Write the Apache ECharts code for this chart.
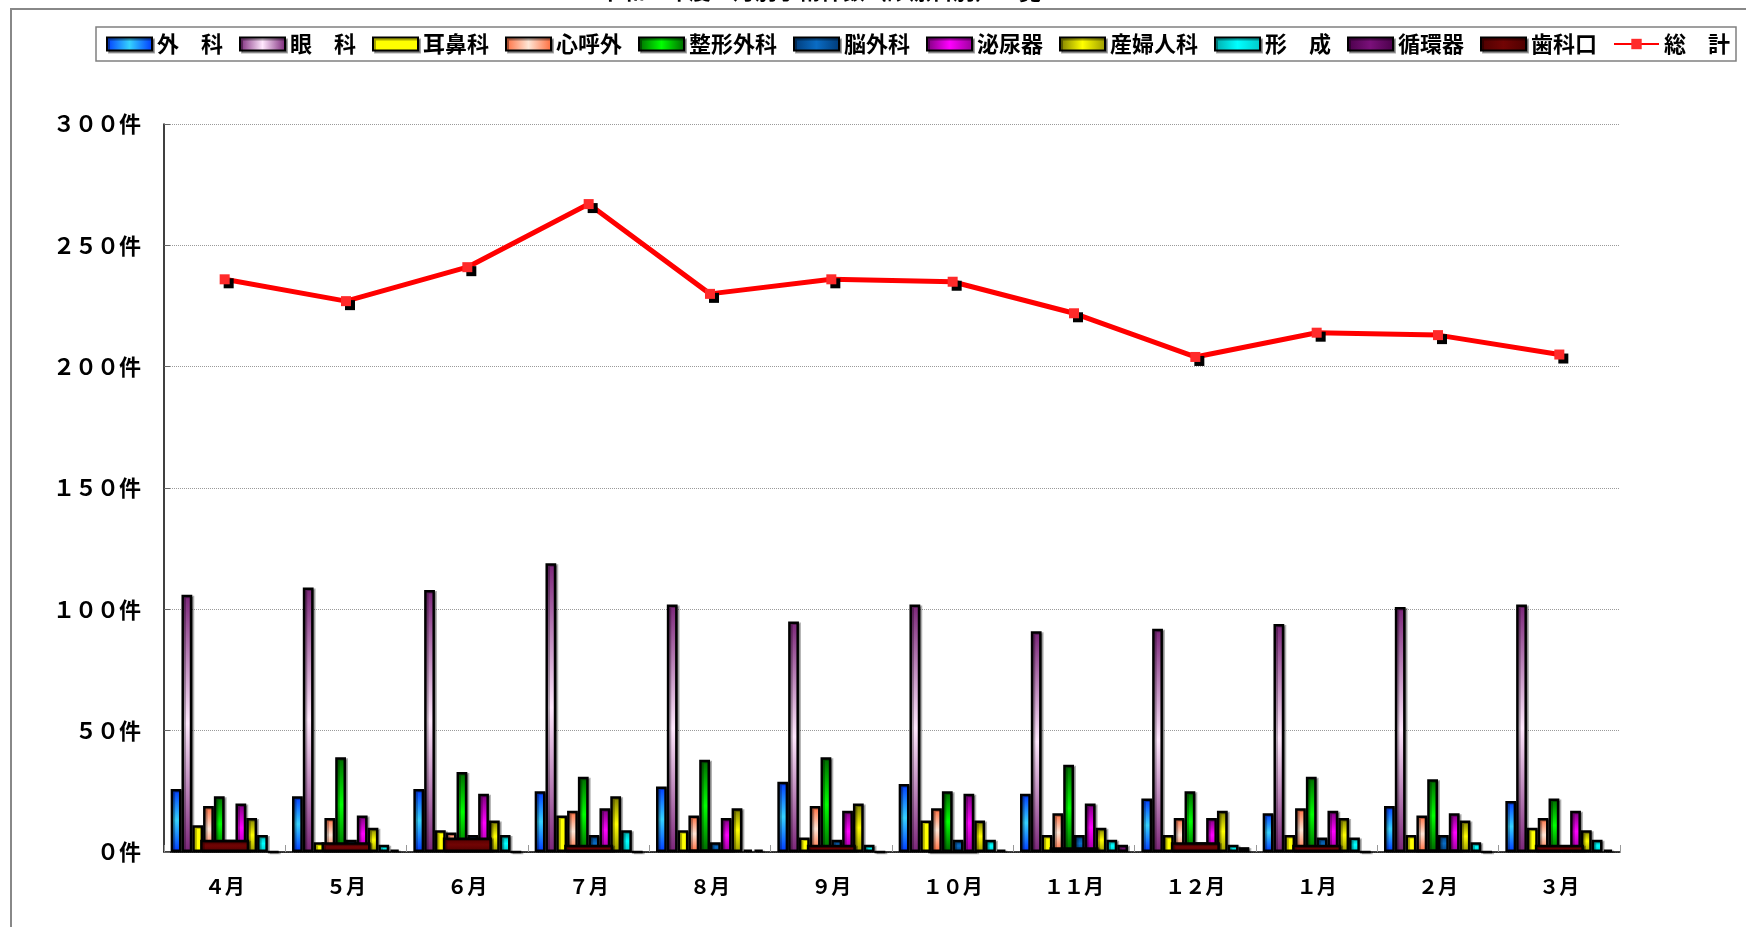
<!DOCTYPE html>
<html>
<head>
<meta charset="utf-8">
<script src="https://cdn.jsdelivr.net/npm/echarts@6/dist/echarts.min.js"></script>
<style>
html,body{margin:0;padding:0;background:#fff;}
#chart{width:1746px;height:927px;}
</style>
</head>
<body>
<div id="chart"></div>
<script>
// ---- data ----
const months = ['４月','５月','６月','７月','８月','９月','１０月','１１月','１２月','１月','２月','３月'];
const yTickLabels = ['０件','５０件','１００件','１５０件','２００件','２５０件','３００件'];
const seriesNames = ['外　科','眼　科','耳鼻科','心呼外','整形外科','脳外科','泌尿器','産婦人科','形　成','循環器','歯科口','総　計'];
const geka       = [26,23,26,25,27,29,28,24,22,16,19,21];
const ganka      = [106,109,108,119,102,95,102,91,92,94,101,102];
const jibika     = [11,4,9,15,9,6,13,7,7,7,7,10];
const shinkogai  = [19,14,8,17,15,19,18,16,14,18,15,14];
const seikei     = [23,39,33,31,38,39,25,36,25,31,30,22];
const nogeka     = [5,5,7,7,4,5,5,7,4,6,7,1];
const hinyoki    = [20,15,24,18,14,17,24,20,14,17,16,17];
const sanfujinka = [14,10,13,23,18,20,13,10,17,14,13,9];
const keisei     = [7,3,7,9,1,3,5,5,3,6,4,5];
const junkanki   = [0,1,0,0,1,0,1,3,2,0,0,1];
const shika      = [5,4,6,3,1,3,0,2,4,3,1,3];
const total      = [236,227,241,267,230,236,235,222,204,214,213,205];

// ---- styles ----
const barData = [geka, ganka, jibika, shinkogai, seikei, nogeka, hinyoki, sanfujinka, keisei, junkanki];
const barColors = [
  ['#0038ff','#35d2ff','#0038ff'],
  ['#7a2478','#ffe8fd','#7a2478'],
  ['#ffff00','#ffff00','#ffff00'],
  ['#ff6a3a','#ffe6d6','#ff6a3a'],
  ['#006800','#00ff00','#006800'],
  ['#003a78','#0a6cc4','#003a78'],
  ['#7a007a','#ff00ff','#9a009a'],
  ['#7a7a00','#ffff00','#9a9a00'],
  ['#00a8a8','#00ffff','#00c8c8'],
  ['#4a004a','#7a107a','#4a004a']
];
const shikaColor = ['#4e0000','#720404','#4e0000'];
const FONT = '"Noto Sans CJK JP", "Noto Sans", sans-serif';

function vgrad(c){
  return new echarts.graphic.LinearGradient(0,0,0,1,[{offset:0,color:c[0]},{offset:0.5,color:c[1]},{offset:1,color:c[2]}]);
}
function hgrad(c){
  return new echarts.graphic.LinearGradient(0,0,1,0,[{offset:0,color:c[0]},{offset:0.5,color:c[1]},{offset:1,color:c[2]}]);
}

const series = [];
barData.forEach((d,i)=>{
  series.push({
    name: seriesNames[i], type:'bar', xAxisIndex:0, yAxisIndex:0, data:d,
    barGap:'0%', barCategoryGap:'11%', z:2,
    itemStyle:{color:vgrad(barColors[i]), borderColor:'#000', borderWidth:2.5,
      shadowColor:'rgba(0,0,0,0.3)', shadowOffsetX:2, shadowOffsetY:1, shadowBlur:0}
  });
});
series.push({
  name: seriesNames[10], type:'bar', xAxisIndex:1, yAxisIndex:0, data:shika,
  barWidth:49, z:3,
  itemStyle:{color:vgrad(shikaColor), borderColor:'#000', borderWidth:2.5,
    shadowColor:'rgba(0,0,0,0.3)', shadowOffsetX:2, shadowOffsetY:1, shadowBlur:0}
});
series.push({
  name: seriesNames[11], type:'line', xAxisIndex:0, yAxisIndex:0, data:total, z:5,
  symbol:'rect', symbolSize:10, color:'#ff0000',
  lineStyle:{color:'#ff0000', width:5},
  itemStyle:{color:'#ff2a2a', shadowColor:'#000', shadowOffsetX:4, shadowOffsetY:4, shadowBlur:0}
});

const legendData = seriesNames.map((n,i)=>{
  if(i<10) return {name:n, icon:'rect', itemStyle:{color:hgrad(barColors[i])}};
  if(i===10) return {name:n, icon:'rect', itemStyle:{color:hgrad(shikaColor)}};
  return {name:n, itemStyle:{borderWidth:0, shadowBlur:0, shadowOffsetX:0, shadowOffsetY:0, shadowColor:'transparent'}};
});

const chart = echarts.init(document.getElementById('chart'), null, {renderer:'canvas'});
chart.setOption({
  animation:false,
  backgroundColor:'#fff',
  textStyle:{fontFamily:FONT},
  graphic:[
    {type:'rect', z:-1, shape:{x:11,y:9,width:1760,height:940}, style:{fill:'none', stroke:'#888', lineWidth:2}},
    {type:'text', x:821, y:-20, style:{text:'令和　年度　月別手術件数（診療科別）一覧', fontSize:22, fontWeight:'bold', fontFamily:FONT, fill:'#000', align:'center'}}
  ],
  legend:{
    data:legendData, left:96, top:27, width:1646, orient:'horizontal',
    itemWidth:45, itemHeight:13, itemGap:16,
    padding:[6,6,6,10],
    borderColor:'#808080', borderWidth:1.5, backgroundColor:'#fff',
    itemStyle:{borderColor:'#000', borderWidth:2, shadowColor:'rgba(0,0,0,0.35)', shadowOffsetX:2, shadowOffsetY:2, shadowBlur:0},
    textStyle:{fontSize:22, fontWeight:'bold', color:'#000', fontFamily:FONT, padding:[0,0,0,0]}
  },
  grid:{left:164, right:126, top:124, bottom:75, containLabel:false},
  xAxis:[
    {type:'category', data:months,
      axisLine:{lineStyle:{color:'#000', width:1.5}},
      axisTick:{show:true, inside:true, length:7, lineStyle:{color:'#999'}},
      axisLabel:{fontSize:20, fontWeight:'bold', color:'#000', margin:24, fontFamily:FONT}},
    {type:'category', data:months, show:false}
  ],
  yAxis:{type:'value', min:0, max:300, interval:50,
    axisLine:{show:true, lineStyle:{color:'#000', width:1.5}},
    axisTick:{show:true, inside:true, length:6, lineStyle:{color:'#666'}},
    splitLine:{show:true, lineStyle:{color:'#9a9a9a', type:'dotted', width:1}},
    axisLabel:{fontSize:22, fontWeight:'bold', color:'#000', margin:23, fontFamily:FONT,
      formatter:(v)=>yTickLabels[Math.round(v/50)]}},
  series:series
});
</script>
</body>
</html>
